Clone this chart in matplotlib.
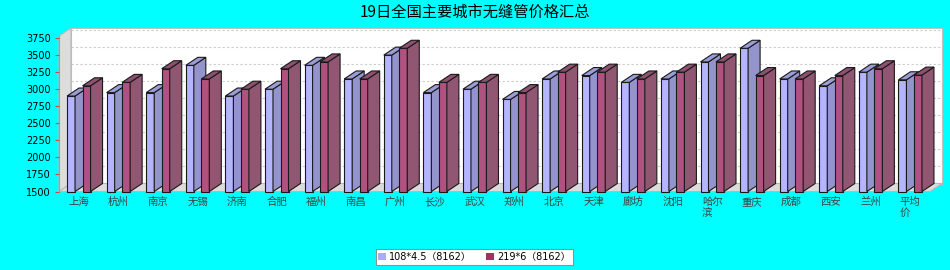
import numpy as np
import matplotlib.pyplot as plt
from matplotlib.patches import Polygon, Rectangle, Patch

plt.rcParams['font.family'] = ['DejaVu Sans', 'Noto Sans CJK SC']

cities = ['上海', '杭州', '南京', '无锡', '济南', '合肥', '福州', '南昌', '广州', '长沙',
          '武汉', '郑州', '北京', '天津', '廊坊', '沈阳', '哈尔\n滨', '重庆', '成都', '西安',
          '兰州', '平均\n价']
pipe_108 = [2900, 2950, 2950, 3350, 2900, 3000, 3350, 3150, 3500, 2950,
            3000, 2850, 3150, 3200, 3100, 3150, 3400, 3600, 3150, 3050,
            3250, 3138]
pipe_219 = [3050, 3100, 3300, 3150, 3000, 3300, 3400, 3150, 3600, 3100,
            3100, 2950, 3250, 3250, 3150, 3250, 3400, 3200, 3150, 3200,
            3300, 3207]
series_names = ['108*4.5（8162）', '219*6（8162）']
yticks = [1500, 1750, 2000, 2250, 2500, 2750, 3000, 3250, 3500, 3750]

n = len(cities)
ymin, ymax = 1500, 3780

fig = plt.figure(figsize=(9.5, 2.7), dpi=100, facecolor='#00ffff')
ax = fig.add_axes([59/950, 1 - 191.5/270, 871/950, 155.5/270])
ax.set_xlim(0, n)
ax.set_ylim(ymin, ymax)
ax.patch.set_visible(False)
for s in ax.spines.values():
    s.set_visible(False)

# 3d depth, pixels -> data units
ax_w = 871
ax_h = 155.5
px_x = n / ax_w
px_y = (ymax - ymin) / ax_h
dx = 12 * px_x
dy = 8 * px_y
w = 8 * px_x
shift = 7.75 * px_x

wall = '#dcdcdc'
# back wall
ax.add_patch(Rectangle((dx, ymin + dy), n, ymax - ymin, fc='white', ec='#c0c0c0',
                       lw=0.8, zorder=0, clip_on=False))
# left wall
ax.add_patch(Polygon([(0, ymin), (dx, ymin + dy), (dx, ymax + dy), (0, ymax)],
                     fc=wall, ec='#b8b8b8', lw=0.8, zorder=0.5, clip_on=False))
# floor
ax.add_patch(Polygon([(0, ymin), (n, ymin), (n + dx, ymin + dy), (dx, ymin + dy)],
                     fc=wall, ec='#b8b8b8', lw=0.8, zorder=0.5, clip_on=False))
# grid lines on back wall
for t in yticks[1:]:
    ax.plot([dx, n + dx], [t + dy, t + dy], color='#cccccc', lw=0.8,
            dashes=(2, 2), zorder=0.3, clip_on=False)


def bar3d(x, val, front, side, top, z):
    ax.add_patch(Rectangle((x, ymin), w, val - ymin, fc=front, ec='#1a1a1a',
                           lw=0.8, zorder=z, clip_on=False))
    ax.add_patch(Polygon([(x + w, ymin), (x + w + dx, ymin + dy), (x + w + dx, val + dy), (x + w, val)],
                         fc=side, ec='#1a1a1a', lw=0.8, zorder=z, clip_on=False))
    ax.add_patch(Polygon([(x, val), (x + dx, val + dy), (x + w + dx, val + dy), (x + w, val)],
                         fc=top, ec='#1a1a1a', lw=0.8, zorder=z, clip_on=False))


for i in range(n):
    c = i + 0.5
    bar3d(c - shift - w / 2, pipe_108[i], '#b4b4ff', '#9494cc', '#9c9cd8', 2 + i * 2)
    bar3d(c + shift - w / 2, pipe_219[i], '#b0527f', '#915672', '#8e5070', 3 + i * 2)

# front axis line
ax.plot([0, 0], [ymin, ymax], color='#a0a0a0', lw=0.8, zorder=1, clip_on=False)

ax.set_yticks(yticks)
ax.set_yticklabels([str(t) for t in yticks])
ax.tick_params(axis='y', length=3, color='#c05050', width=0.8, labelsize=7, pad=3)

ax.set_xticks(np.arange(n) + 0.5)
ax.set_xticklabels(cities)
ax.tick_params(axis='x', length=0, pad=4, labelsize=7.5, labelcolor='#404040')
for lab in ax.get_xticklabels():
    lab.set_multialignment('left')
    lab.set_linespacing(1.15)

fig.text(0.4995, 1 - 12/270, '19日全国主要城市无缝管价格汇总', ha='center', va='center',
         fontsize=11, family=['Noto Sans CJK SC'])

handles = [Patch(fc='#aaaaff', ec='none'), Patch(fc='#a03264', ec='none')]
leg = fig.legend(handles, series_names, loc='center', bbox_to_anchor=(0.4995, 1 - 257/270),
                 ncol=2, fontsize=7, frameon=True, fancybox=False, handlelength=0.8,
                 handleheight=0.8, handletextpad=0.3, columnspacing=1.5,
                 borderpad=0.3, borderaxespad=0, framealpha=1)
leg.get_frame().set_facecolor('white')
leg.get_frame().set_edgecolor('#909090')
leg.get_frame().set_linewidth(0.8)

fig.savefig('out.png', dpi=100, facecolor=fig.get_facecolor())
